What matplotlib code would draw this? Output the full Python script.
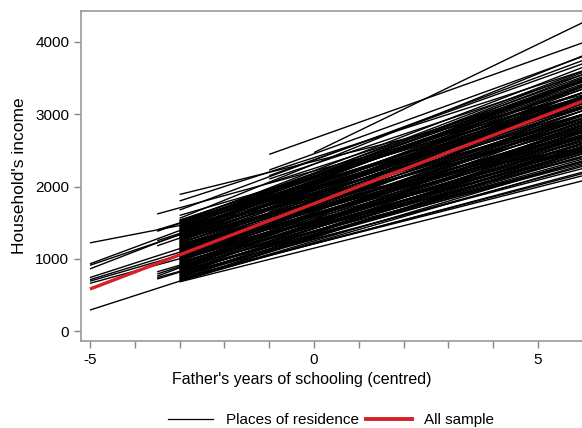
import matplotlib
matplotlib.use("Agg")
import matplotlib.pyplot as plt
from matplotlib.ticker import MultipleLocator
from matplotlib.lines import Line2D

plt.rcParams['font.family'] = ['Liberation Sans', 'DejaVu Sans']
plt.rcParams['axes.unicode_minus'] = False

# ---- data ----
# each place line: start x, value at start, value at x = 6
# group starting at x = -5
a_x0 = [-5, -5, -5, -5, -5, -5, -5, -5, -5]
a_y0 = [1220, 930, 910, 860, 740, 710, 690, 660, 290]
a_y1 = [2540, 3460, 3220, 3500, 2940, 2800, 2670, 2530, 2490]

# group starting at x = -3.5
b_x0 = [-3.5] * 10
b_y0 = [1620, 1400, 1380, 1250, 1180, 820, 790, 760, 740, 720]
b_y1 = [3235, 3205, 3470, 3150, 3175, 2530, 2690, 2945, 2355, 2525]

# group starting at x = -3 (dense block)
c_y0 = [1890, 1800, 1675, 1600, 1560,
        680, 695, 710, 720, 735, 750, 760, 775, 790, 800, 815, 830, 840, 855,
        870, 880, 895, 910, 920, 935, 950, 960, 975, 990, 1000, 1015, 1030,
        1040, 1055, 1070, 1080, 1095, 1110, 1120, 1135, 1150, 1160, 1175,
        1190, 1200, 1215, 1230, 1240, 1255, 1270, 1280, 1295, 1310, 1320,
        1335, 1350, 1360, 1375, 1390, 1400, 1415, 1430, 1440, 1455, 1470,
        1480, 1495, 1510, 1520, 1535,
        688, 702, 728, 742, 768, 782, 808, 822, 848, 862, 888, 902, 928, 942,
        968, 982, 1008, 1022, 1048, 1062, 1088, 1102, 1128, 1142, 1168, 1182,
        1208, 1222, 1248, 1262, 1288, 1302, 1328, 1342, 1368, 1382, 1408,
        1422, 1448, 1462, 1488, 1502, 1528]
c_y1 = [3267, 3600, 3745, 3220, 3810,
        2080, 2350, 2200, 2600, 2150, 2450, 2280, 2700, 2250, 2500, 2380,
        2850, 2320, 2550, 2420, 2750, 2480, 2600, 2950, 2520, 2680, 2400,
        2800, 2580, 3050, 2650, 2760, 2500, 2900, 2700, 3150, 2620, 2850,
        2980, 2720, 3250, 2780, 2920, 3050, 2680, 3100, 2880, 3350, 2980,
        3200, 2820, 3080, 3400, 2950, 3250, 3120, 3480, 3000, 3300, 3180,
        3550, 3100, 3380, 3250, 3600, 3150, 3420, 3300, 3520, 3350,
        2300, 2500, 2180, 2650, 2420, 2350, 2780, 2460, 2560, 2900, 2340,
        2640, 2720, 2480, 3000, 2600, 2820, 2550, 3100, 2760, 2900, 2680,
        3200, 2840, 3000, 2750, 3300, 2950, 3150, 2860, 3380, 3050, 3200,
        3000, 3450, 3150, 3300, 3580, 3200, 3500, 3350, 3650, 3450]
c_x0 = [-3] * len(c_y0)

# group starting near x = -1 and x = 0
d_x0 = [-1, -1, -1, -1, -1, -1, -1, -1, -1, -1, 0]
d_y0 = [2445, 2228, 2104, 2150, 2050, 1900, 1800, 1650, 1500, 1400, 2470]
d_y1 = [3990, 3800, 3550, 3700, 3450, 3400, 3300, 3200, 3000, 2750, 4270]

x_end = 6

# all-sample line
all_x = [-5, 6]
all_y = [581, 3183]

xticks = [-5, 0, 5]
yticks = [0, 1000, 2000, 3000, 4000]

# ---- figure ----
fig = plt.figure(figsize=(5.82, 4.28), dpi=100)
ax = fig.add_axes([81 / 582, 87 / 428, 1 - 81 / 582, 330 / 428])

for xs, y0s, y1s in [(a_x0, a_y0, a_y1), (b_x0, b_y0, b_y1),
                     (c_x0, c_y0, c_y1), (d_x0, d_y0, d_y1)]:
    for x0, y0, y1 in zip(xs, y0s, y1s):
        ax.plot([x0, x_end], [y0, y1], color='black', lw=1.0,
                solid_capstyle='butt')

ax.plot(all_x, all_y, color='#d62027', lw=2.4, solid_capstyle='butt')

ax.set_xlim(-5.2, 5.98)
ax.set_ylim(-138, 4429)
ax.set_xticks(xticks)
ax.set_yticks(yticks)
ax.xaxis.set_minor_locator(MultipleLocator(1))
ax.tick_params(axis='both', which='both', colors='#888888', labelcolor='black',
               labelsize=11, length=5, width=1)
for s in ['left', 'top', 'bottom']:
    ax.spines[s].set_color('#999999')
    ax.spines[s].set_linewidth(1.2)
ax.spines['right'].set_visible(False)

ax.set_xlabel("Father's years of schooling (centred)", fontsize=11.5,
              labelpad=6)
ax.xaxis.set_label_coords((302 - 81) / (582 - 81), -0.095)
ax.set_ylabel("Household's income", fontsize=12.5, labelpad=6)

handles = [Line2D([], [], color='black', lw=0.9),
           Line2D([], [], color='#d62027', lw=2.8)]
fig.legend(handles, ['Places of residence', 'All sample'], loc='center',
           bbox_to_anchor=(331 / 582, 0.018), ncol=2, frameon=False,
           fontsize=11, handlelength=3.0, columnspacing=0.5, handletextpad=0.8)

fig.savefig('out.png', dpi=100)
